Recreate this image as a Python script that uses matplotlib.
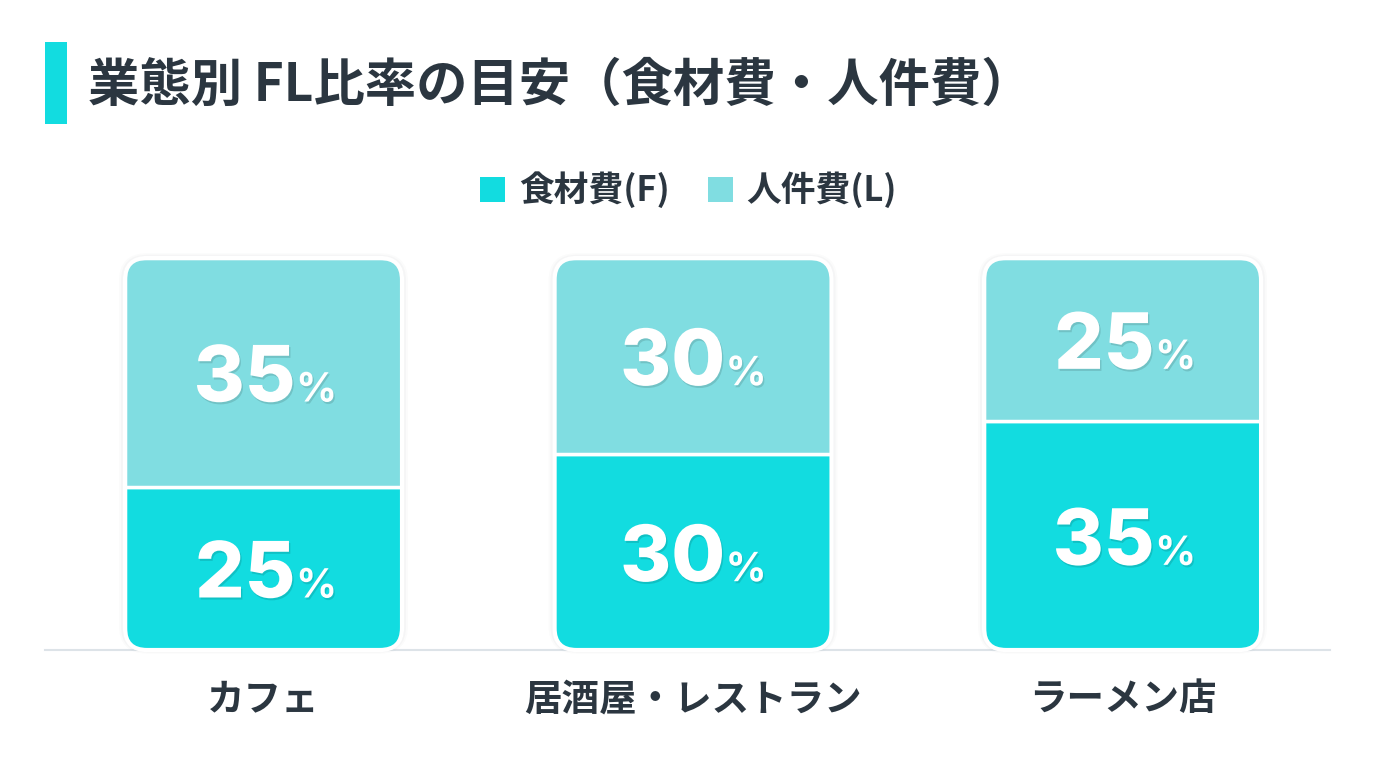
import matplotlib
matplotlib.use("Agg")
import matplotlib.pyplot as plt
from matplotlib.patches import FancyBboxPatch, Rectangle, Patch
import matplotlib.patheffects as pe
import numpy as np

# データ（単位: %）
categories = ['カフェ', '居酒屋・レストラン', 'ラーメン店']
food_cost = [25, 30, 35]    # 食材費(F)
labor_cost = [35, 30, 25]   # 人件費(L)
series_labels = ['食材費(F)', '人件費(L)']
title = '業態別 FL比率の目安（食材費・人件費）'

COLOR_F = '#12dce0'
COLOR_L = '#80dde1'
TEXT = '#2b3640'
JP = ['Noto Sans CJK JP', 'DejaVu Sans']
NUM = ['Inter', 'DejaVu Sans']

W, H = 1376, 768
fig = plt.figure(figsize=(W / 100, H / 100), dpi=100)
fig.patch.set_facecolor('white')

# 軸の位置（ピクセルから換算）
ax = fig.add_axes([45 / W, (H - 650) / H, (1330 - 45) / W, 392 / H])
x = np.arange(len(categories))
ax.set_xlim(-0.5087, 2.483)
ax.set_ylim(0, 60)
bar_w = 0.645

bars_f = ax.bar(x, food_cost, bar_w, color=COLOR_F, edgecolor='white',
                linewidth=2.5, zorder=3)
bars_l = ax.bar(x, labor_cost, bar_w, bottom=food_cost, color=COLOR_L,
                edgecolor='white', linewidth=2.5, zorder=3)

# 角丸のクリップ
px_x = ax.transData.transform((1, 0))[0] - ax.transData.transform((0, 0))[0]
px_y = ax.transData.transform((0, 1))[1] - ax.transData.transform((0, 0))[1]
radius_px = 22
r = radius_px / px_x
aspect = px_x / px_y
for i, (bf, bl) in enumerate(zip(bars_f, bars_l)):
    total = food_cost[i] + labor_cost[i]
    x0 = x[i] - bar_w / 2
    clip = FancyBboxPatch((x0, 0), bar_w, total,
                          boxstyle=f'round,pad=0,rounding_size={r}',
                          mutation_aspect=aspect, transform=ax.transData)
    bf.set_clip_path(clip)
    bl.set_clip_path(clip)
    # 影
    for k, a in [(6, 0.025), (4, 0.035), (2, 0.05)]:
        dx = k / px_x
        dy = k / px_y
        sh = FancyBboxPatch((x0 - dx, -dy * 0.6), bar_w + 2 * dx, total + dy * 1.4,
                            boxstyle=f'round,pad=0,rounding_size={r + dx}',
                            mutation_aspect=aspect, facecolor='#5a6a75',
                            edgecolor='none', alpha=a, zorder=1, clip_on=False)
        ax.add_patch(sh)
    outline = FancyBboxPatch((x0, 0), bar_w, total,
                             boxstyle=f'round,pad=0,rounding_size={r}',
                             mutation_aspect=aspect, facecolor='none',
                             edgecolor='white', linewidth=3, zorder=4, clip_on=False)
    ax.add_patch(outline)

# ラベル
shadow = [pe.withSimplePatchShadow(offset=(1, -1.5), shadow_rgbFace='#000000', alpha=0.12)]
def put_label(xc, yc, val):
    ax.annotate(f'{val}', (xc, yc), xytext=(23, -21), textcoords='offset points',
                ha='right', va='baseline', fontsize=56, fontweight='heavy',
                family=NUM, color='white', zorder=5, path_effects=shadow)
    ax.annotate('%', (xc, yc), xytext=(23.5, -21), textcoords='offset points',
                ha='left', va='baseline', fontsize=29, fontweight='bold',
                family=NUM, color='white', zorder=5, path_effects=shadow)

for i in range(len(categories)):
    put_label(x[i], food_cost[i] / 2, food_cost[i])
    put_label(x[i], food_cost[i] + labor_cost[i] / 2, labor_cost[i])

# 軸
for s in ['top', 'right', 'left']:
    ax.spines[s].set_visible(False)
ax.spines['bottom'].set_color('#dde3e8')
ax.spines['bottom'].set_linewidth(1.5)
ax.spines['bottom'].set_zorder(0)
ax.set_yticks([])
ax.set_xticks(x)
ax.set_xticklabels(categories, family=JP, fontsize=27, fontweight='bold', color=TEXT)
ax.tick_params(axis='x', length=0, pad=21)
ax.patch.set_alpha(0)

# 凡例
handles = [Patch(facecolor=COLOR_F, edgecolor='none'),
           Patch(facecolor=COLOR_L, edgecolor='none')]
fig.legend(handles, series_labels, loc='center', bbox_to_anchor=(0.5004, 1 - 190 / H),
           ncol=2, frameon=False, handlelength=0.72, handleheight=0.72,
           handletextpad=0.4, columnspacing=1.1,
           prop={'family': JP, 'size': 25, 'weight': 'bold'}, labelcolor=TEXT)

# タイトル
fig.patches.append(Rectangle((45 / W, 1 - 124 / H), 22 / W, 82 / H,
                             transform=fig.transFigure, facecolor='#12dce0',
                             edgecolor='none'))
fig.text(88 / W, 1 - 85 / H, title, family=JP, fontsize=37, fontweight='bold',
         color=TEXT, ha='left', va='center')

fig.savefig('out.png', dpi=100, facecolor='white')
